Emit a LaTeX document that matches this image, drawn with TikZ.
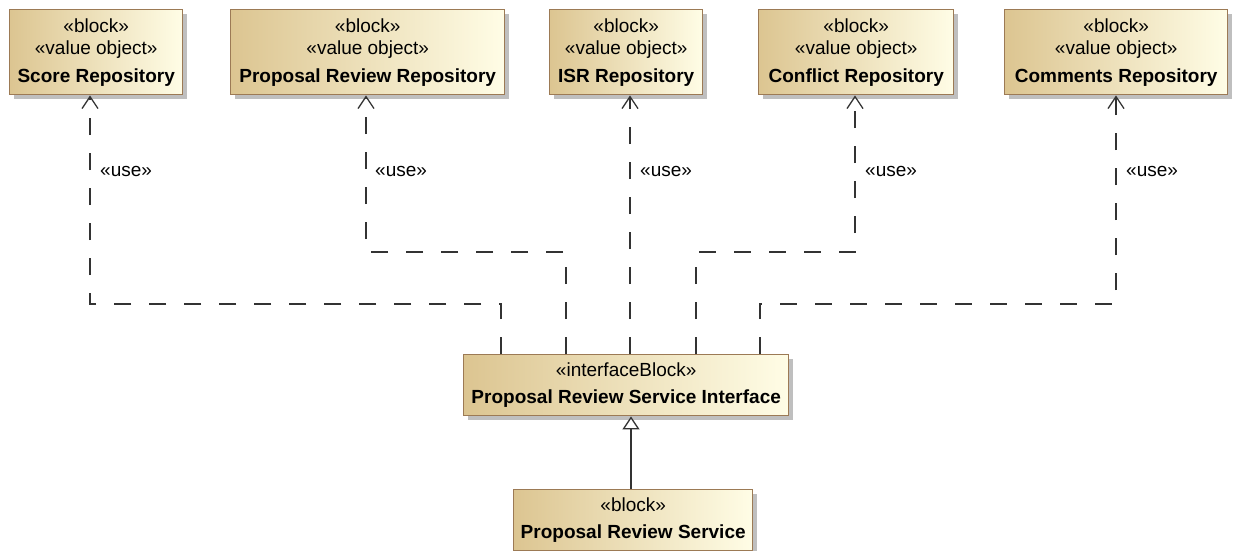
\documentclass[tikz,border=0pt]{standalone}
\usepackage{fontspec}
\setmainfont{Liberation Sans}
\usetikzlibrary{arrows.meta,shadows}
\definecolor{boxleft}{HTML}{DCC591}
\definecolor{boxright}{HTML}{FFFDE6}
\definecolor{boxborder}{HTML}{9C7A55}
\definecolor{linecol}{HTML}{333333}
\tikzset{
  umlbox/.style={rectangle, draw=boxborder, line width=1.4pt, left color=boxleft, right color=boxright,
    anchor=north west, inner sep=0pt, align=center, font=\fontsize{19}{22}\selectfont,
    drop shadow={shadow xshift=4pt, shadow yshift=-4pt, fill=black!25, opacity=1}},
  usedep/.style={draw=linecol, line width=1.3pt, dash pattern=on 17pt off 18pt,
    -{Straight Barb[length=12pt,width=16pt,line width=1.3pt]}},
  gen/.style={draw=linecol, line width=1.3pt, -{Triangle[open,length=13pt,width=17pt,line width=1.3pt,fill=white]}},
  uselbl/.style={anchor=west, inner sep=0pt, font=\fontsize{19}{22}\selectfont}
}
\begin{document}
\begin{tikzpicture}[x=1pt,y=-1pt]
\useasboundingbox[fill=white] (0,0) rectangle (1233,550);
\node[umlbox, minimum width=173pt, minimum height=85pt] (score) at (9,9)
  {«block»\\«value object»\\[6pt]\textbf{Score Repository}};
\node[umlbox, minimum width=274pt, minimum height=85pt] (prr) at (230,9)
  {«block»\\«value object»\\[6pt]\textbf{Proposal Review Repository}};
\node[umlbox, minimum width=153pt, minimum height=85pt] (isr) at (549,9)
  {«block»\\«value object»\\[6pt]\textbf{ISR Repository}};
\node[umlbox, minimum width=195pt, minimum height=85pt] (conf) at (758,9)
  {«block»\\«value object»\\[6pt]\textbf{Conflict Repository}};
\node[umlbox, minimum width=223pt, minimum height=85pt] (comm) at (1004,9)
  {«block»\\«value object»\\[6pt]\textbf{Comments Repository}};
\node[umlbox, minimum width=325pt, minimum height=61pt] (ifc) at (463,354)
  {«interfaceBlock»\\[5pt]\textbf{Proposal Review Service Interface}};
\node[umlbox, minimum width=239pt, minimum height=61pt] (svc) at (513,489)
  {«block»\\[5pt]\textbf{Proposal Review Service}};

\draw[usedep] (ifc.north -| 501,0) -- (501,304) -| (score.south -| 90,0);
\draw[usedep] (ifc.north -| 566,0) -- (566,252) -| (prr.south -| 366,0);
\draw[usedep] (ifc.north -| 630,0) -- (isr.south -| 630,0);
\draw[usedep] (ifc.north -| 696,0) -- (696,252) -| (conf.south -| 855,0);
\draw[usedep] (ifc.north -| 760,0) -- (760,304) -| (comm.south -| 1116,0);

\node[uselbl] (u1) at (100,171) {«use»};
\node[uselbl] (u2) at (375,171) {«use»};
\node[uselbl] (u3) at (640,171) {«use»};
\node[uselbl] (u4) at (865,171) {«use»};
\node[uselbl] (u5) at (1126,171) {«use»};

\draw[gen] (svc.north -| 631,0) -- (ifc.south -| 631,0);
\end{tikzpicture}
\end{document}
